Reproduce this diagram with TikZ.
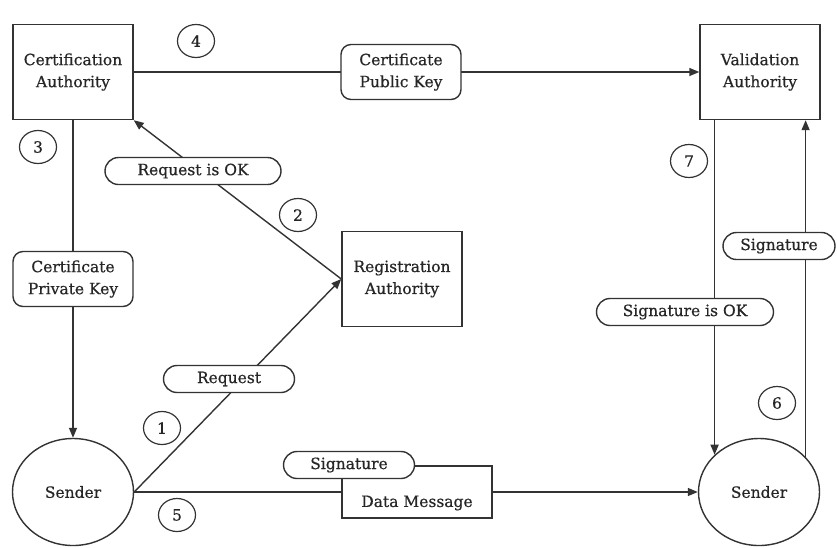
\documentclass[tikz,border=0pt]{standalone}
\usepackage{fontspec}
\setmainfont{DejaVu Serif}[FakeBold=0.6]
\usetikzlibrary{arrows.meta,shapes.geometric,shapes.misc}

\begin{document}
\begin{tikzpicture}[x=1pt, y=-1pt,
  every node/.style={font=\fontsize{15.5}{22}\selectfont, text=black!85},
  wire/.style={draw=black!80, line width=1.4pt},
  arrow/.style={wire, -{Triangle[length=10pt,width=8pt]}},
  box/.style={rectangle, wire, fill=white, align=center, minimum width=120, minimum height=95},
  sender/.style={ellipse, wire, minimum width=121, minimum height=107},
  keybox/.style={rectangle, wire, fill=white, rounded corners=10, align=center, minimum width=120, minimum height=55},
  pill/.style={rounded rectangle, wire, fill=white, minimum height=27, inner sep=2pt},
  num/.style={ellipse, draw=black!80, line width=1.2pt, minimum width=37, minimum height=33, inner sep=0pt}]
\useasboundingbox (0,0) rectangle (837,547);
\node (ca) at (73,72) [box] {Certification\\Authority};
\node (va) at (760,72) [box] {Validation\\Authority};
\node (ra) at (402,279) [box] {Registration\\Authority};
\node (s1) at (73,492) [sender] {Sender};
\node (s2) at (759,492) [sender] {Sender};
\node (dm) at (417,492) [box, minimum width=150, minimum height=52] {};
\node (dmtext) at (417,503) {Data Message};
\draw[arrow] (ca.east) -- (va.west);
\draw[arrow] (ra.west) -- (ca.south east);
\draw[arrow] (ca.south) -- (s1.north);
\draw[arrow] (s1.east) -- (ra.west);
\draw[wire] (s1.east) -- (dm.west);
\draw[arrow] (dm.east) -- (s2.west);
\draw[arrow] (s2.140 |- va.south) -- (s2.140);
\draw[arrow] (s2.37) -- (s2.37 |- va.south);
\node (pub) at (401,72) [keybox] {Certificate\\Public Key};
\node (priv) at (73,279) [keybox] {Certificate\\Private Key};
\node (reqok) at (193,171) [pill, minimum width=180] {Request is OK};
\node (req) at (229,379) [pill, minimum width=135] {Request};
\node (sig1) at (349,465) [pill, minimum width=135] {Signature};
\node (sigok) at (685,312) [pill, minimum width=181] {Signature is OK};
\node (sig2) at (779,246) [pill, minimum width=116] {Signature};
\node (n1) at (162,428) [num] {1};
\node (n2) at (298,215) [num] {2};
\node (n3) at (38,147) [num] {3};
\node (n4) at (196,41) [num] {4};
\node (n5) at (177,515) [num] {5};
\node (n6) at (777,403) [num] {6};
\node (n7) at (689,161) [num] {7};
\end{tikzpicture}
\end{document}
